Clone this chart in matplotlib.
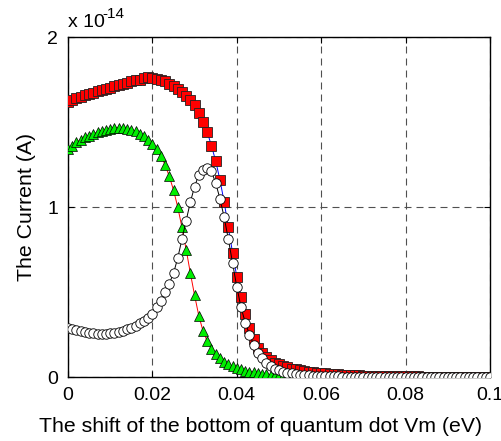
import numpy as np
import matplotlib
matplotlib.use("Agg")
import matplotlib.pyplot as plt

plt.rcParams['font.family'] = ['Liberation Sans', 'DejaVu Sans']

# x grid (eV)
x_vals = [i / 1000 for i in range(101)]

# Current values in units of 1e-14 A
squares = [1.62,1.63,1.64,1.65,1.66,1.665,1.67,1.68,1.69,1.695,
           1.70,1.71,1.72,1.725,1.73,1.74,1.745,1.75,1.76,1.765,
           1.76,1.755,1.75,1.74,1.725,1.71,1.695,1.675,1.655,1.63,
           1.60,1.555,1.50,1.44,1.36,1.27,1.16,1.03,0.88,0.73,
           0.59,0.47,0.37,0.29,0.225,0.17,0.14,0.12,0.10,0.085,
           0.075,0.065,0.057,0.05,0.045,0.04,0.036,0.032,0.029,0.026,
           0.023,0.021,0.019,0.017,0.015,0.013,0.012,0.011,0.010,0.009,
           0.008,0.0075,0.007,0.0065,0.006,0.0055,0.005,0.0047,0.0044,0.0041,
           0.0038,0.0035,0.0033,0.0031,0.0029,0.0027,0.0025,0.0024,0.0023,0.0022,
           0.0021,0.002,0.0019,0.0018,0.0017,0.0016,0.0015,0.0014,0.0013,0.0012,0.0011]

circles = [0.29,0.28,0.275,0.27,0.265,0.26,0.258,0.255,0.255,0.255,
           0.258,0.26,0.265,0.27,0.28,0.29,0.30,0.315,0.33,0.345,
           0.37,0.41,0.45,0.50,0.55,0.61,0.70,0.81,0.92,1.03,
           1.12,1.19,1.22,1.23,1.21,1.14,1.05,0.94,0.81,0.67,
           0.53,0.41,0.32,0.25,0.19,0.14,0.11,0.085,0.065,0.05,
           0.04,0.032,0.026,0.021,0.017,0.014,0.011,0.009,0.007,0.006,
           0.005,0.0045,0.004,0.0035,0.003,0.0027,0.0024,0.0021,0.0019,0.0017,
           0.0015,0.0014,0.0013,0.0012,0.0011,0.001,0.0009,0.0008,0.0008,0.0007,
           0.0007,0.0006,0.0006,0.0005,0.0005,0.0005,0.0004,0.0004,0.0004,0.0003,
           0.0003,0.0003,0.0003,0.0002,0.0002,0.0002,0.0002,0.0002,0.0001,0.0001,0.0001]

triangles = [1.34,1.36,1.38,1.395,1.41,1.42,1.43,1.44,1.45,1.455,
             1.46,1.465,1.465,1.465,1.46,1.455,1.445,1.43,1.415,1.395,
             1.37,1.34,1.30,1.25,1.18,1.10,1.00,0.88,0.75,0.61,
             0.48,0.36,0.27,0.21,0.165,0.135,0.11,0.09,0.075,0.063,
             0.053,0.045,0.038,0.032,0.027,0.023,0.02,0.017,0.014,0.012,
             0.01,0.0085,0.007,0.006,0.005,0.0042,0.0035,0.003,0.0025,0.0021,
             0.0018,0.0015,0.0013,0.0011,0.001,0.0008,0.0007,0.0006,0.0005,0.0004,
             0.0004,0.0003,0.0003,0.0002,0.0002,0.0002,0.0002,0.0001,0.0001,0.0001,
             0.0001,0.0001,0.0001,0.0001,0.0001,0.0001,0.0001,0.0001,0.0001,0.0001,
             0.0001,0.0001,0.0001,0.0001,0.0001,0.0001,0.0001,0.0001,0.0001,0.0001,0.0001]

x_ticks = [0, 0.02, 0.04, 0.06, 0.08, 0.1]
x_ticklabels = ['0', '0.02', '0.04', '0.06', '0.08', '0.1']
y_ticks = [0, 1, 2]
y_ticklabels = ['0', '1', '2']

fig = plt.figure(figsize=(5.01, 4.41), dpi=100)
ax = fig.add_axes([68/501, 1-377/441, (490-68)/501, (377-37)/441])

ms = 6.8
ax.plot(x_vals, squares, '-', color='blue', lw=0.7, marker='s', ms=ms,
        mfc='red', mec='#222222', mew=0.6, zorder=3)
ax.plot(x_vals, triangles, '-', color='red', lw=0.7, marker='^', ms=ms,
        mfc='#00ee00', mec='black', mew=0.5, zorder=4)
ax.plot(x_vals, circles, '-', color='black', lw=0.7, marker='o', ms=ms,
        mfc='white', mec='black', mew=0.6, zorder=5)

ax.set_xlim(0, 0.1)
ax.set_ylim(0, 2)
ax.set_xticks(x_ticks)
ax.set_xticklabels(x_ticklabels)
ax.set_yticks(y_ticks)
ax.set_yticklabels(y_ticklabels)
ax.tick_params(direction='in', top=True, right=True, length=4, labelsize=14, width=0.8)
ax.tick_params(axis='x', pad=7)
ax.tick_params(axis='y', pad=7)
ax.grid(True, color='#505050', linestyle=(0, (6.3, 4.5)), lw=0.8)
for s in ax.spines.values():
    s.set_linewidth(1.0)

ax.set_xlabel('The shift of the bottom of quantum dot Vm (eV)', fontsize=15.3)
ax.xaxis.set_label_coords((261-68)/422, (377-417)/340)
ax.set_ylabel('The Current (A)', fontsize=15.3)
ax.yaxis.set_label_coords((36-68)/422, 0.5)

fig.text(68/501, 1-27/441, 'x 10', fontsize=14, va='baseline', ha='left')
fig.text(102/501, 1-18/441, '-14', fontsize=11, va='baseline', ha='left')

fig.savefig('out.png', dpi=100)
